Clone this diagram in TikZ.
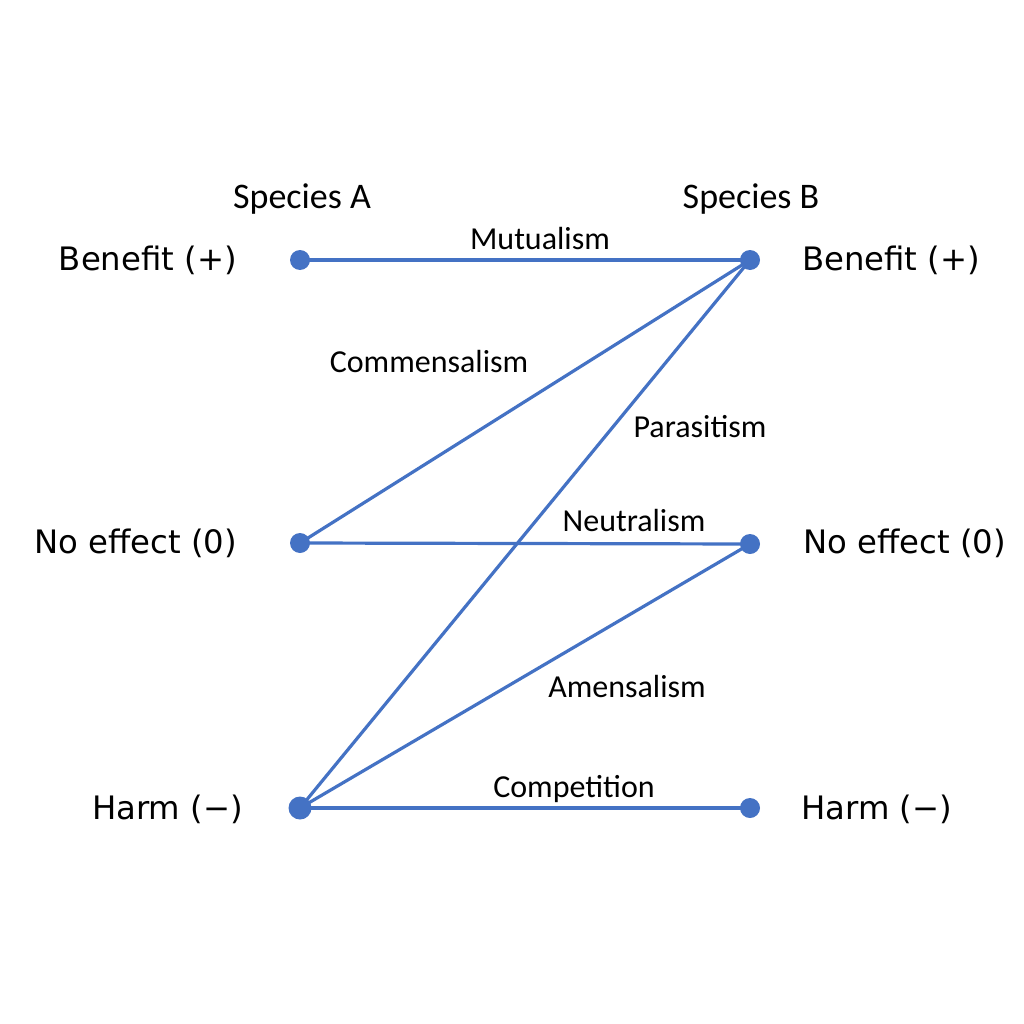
\documentclass[tikz,border=0pt]{standalone}
\usepackage{fontspec}
\setmainfont{Carlito}
\newfontfamily\dejavu{DejaVu Sans}
\definecolor{lineblue}{HTML}{4472C4}
\begin{document}
\begin{tikzpicture}[x=1pt,y=-1pt,
  conn/.style={draw=lineblue,line width=3.2pt},
  dot/.style={circle,fill=lineblue,inner sep=0pt,minimum size=20pt},
  bigdot/.style={circle,fill=lineblue,inner sep=0pt,minimum size=23pt},
  state/.style={font=\dejavu\fontsize{32.3}{38}\selectfont,inner sep=0pt},
  rel/.style={font=\fontsize{32}{38}\selectfont,inner sep=0pt,anchor=base},
  head/.style={font=\fontsize{36}{42}\selectfont,inner sep=0pt,anchor=base}]
\useasboundingbox (0,0) rectangle (1024,1024);
% dots
\coordinate (a1) at (300,260);
\coordinate (a2) at (300,543);
\coordinate (a3) at (300,808);
\coordinate (b1) at (750,260);
\coordinate (b2) at (750,544);
\coordinate (b3) at (750,808);
% connectors
\draw[conn] (a1) -- (b1);
\draw[conn] (a2) -- (b1);
\draw[conn] (a2) -- (b2);
\draw[conn] (a3) -- (b1);
\draw[conn] (a3) -- (b2);
\draw[conn] (a3) -- (b3);
\node[dot] (da1) at (a1) {};
\node[dot] (da2) at (a2) {};
\node[bigdot] (da3) at (a3) {};
\node[dot] (db1) at (b1) {};
\node[dot] (db2) at (b2) {};
\node[dot] (db3) at (b3) {};
% headings
\node[head] (sa) at (302,209) {Species A};
\node[head] (sb) at (751,209) {Species B};
% state labels
\node[state,anchor=base east] (la1) at (237,270) {Benefit (+)};
\node[state,anchor=base east] (la2) at (237,553) {No effect (0)};
\node[state,anchor=base east] (la3) at (243,819) {Harm (−)};
\node[state,anchor=base west] (lb1) at (802,270) {Benefit (+)};
\node[state,anchor=base west] (lb2) at (803,553) {No effect (0)};
\node[state,anchor=base west] (lb3) at (801,819) {Harm (−)};
% relation labels
\node[rel] (mut) at (540,249) {Mutualism};
\node[rel] (com) at (429,372) {Commensalism};
\node[rel] (par) at (700,437) {Parasitism};
\node[rel] (neu) at (634,531) {Neutralism};
\node[rel] (ame) at (627,697) {Amensalism};
\node[rel] (cmp) at (574,797) {Competition};
\end{tikzpicture}
\end{document}
